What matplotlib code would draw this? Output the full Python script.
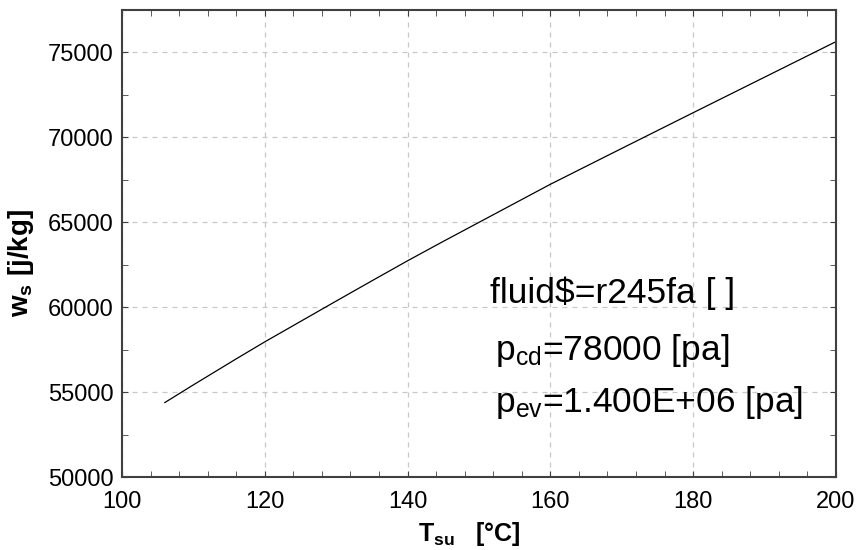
import matplotlib
matplotlib.use('Agg')
import matplotlib.pyplot as plt
from matplotlib.ticker import MultipleLocator

plt.rcParams['font.family'] = ['Liberation Sans', 'DejaVu Sans']
plt.rcParams['mathtext.fontset'] = 'custom'
plt.rcParams['mathtext.rm'] = 'Liberation Sans'
plt.rcParams['mathtext.it'] = 'Liberation Sans'
plt.rcParams['mathtext.bf'] = 'Liberation Sans:bold'

# supply temperature [°C] and specific work [J/kg]
t_su = [106, 108, 110, 112, 116, 120, 125, 130, 135, 140, 145, 150, 160,
        170, 180, 190, 200]
w_s = [54380, 54900, 55420, 55930, 56950, 57950, 59150, 60350, 61540, 62720,
       63860, 64980, 67220, 69330, 71430, 73520, 75610]

info_lines = [r'fluid\$=r245fa [ ]',
              r'p$_{\mathrm{cd}}$=78000 [pa]',
              r'p$_{\mathrm{ev}}$=1.400E+06 [pa]']

fig = plt.figure(figsize=(8.56, 5.5), dpi=100)
ax = fig.add_axes([0.1425, 0.1327, 0.8341, 0.85])

ax.plot(t_su, w_s, color='black', linewidth=0.9)

ax.set_xlim(100, 200)
ax.set_ylim(50000, 77500)
ax.xaxis.set_major_locator(MultipleLocator(20))
ax.xaxis.set_minor_locator(MultipleLocator(4))
ax.yaxis.set_major_locator(MultipleLocator(5000))
ax.yaxis.set_minor_locator(MultipleLocator(2500))

ax.grid(True, which='major', linestyle=(0, (4, 4)), color='#c8c8c8', linewidth=0.9)
ax.tick_params(which='both', direction='in', top=True, right=True,
               labelsize=17, color='#404040')
ax.tick_params(which='major', length=4)
ax.tick_params(which='minor', length=4)
ax.tick_params(axis='x', pad=10)
ax.tick_params(axis='y', pad=6)
for s in ax.spines.values():
    s.set_color('#404040')
    s.set_linewidth(1.5)

ax.set_xlabel(r'$\mathbf{T_{su}}$   [°C]', fontsize=18, fontweight='bold')
ax.xaxis.set_label_coords(0.487, -0.092)
ax.set_ylabel(r'$\mathbf{w_{s}}$ [j/kg]', fontsize=20, fontweight='bold')
ax.yaxis.set_label_coords(-0.12, 0.458)

y_text = [60235, 56882, 53824]
x_text = [151.5, 152.2, 152.2]
for txt, xx, yy in zip(info_lines, x_text, y_text):
    ax.text(xx, yy, txt, fontsize=25.5, ha='left', va='baseline')

fig.savefig('out.png', dpi=100)
